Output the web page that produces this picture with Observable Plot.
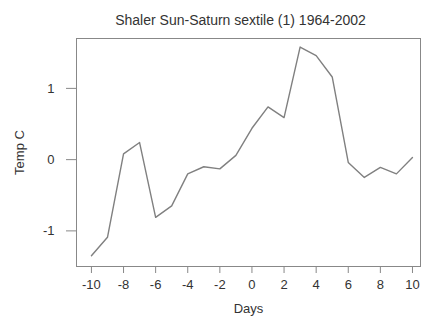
<!DOCTYPE html>
<html>
<head>
<meta charset="utf-8">
<script src="https://cdn.jsdelivr.net/npm/d3@7"></script>
<script src="https://cdn.jsdelivr.net/npm/@observablehq/plot@0.6"></script>
<style>
  html, body { margin: 0; padding: 0; background: #fff; }
  svg { display: block; }
</style>
</head>
<body>
<div id="chart"></div>
<script>
// Mean temperature anomaly around each Sun-Saturn sextile, Shaler station
const days = [-10, -9, -8, -7, -6, -5, -4, -3, -2, -1, 0, 1, 2, 3, 4, 5, 6, 7, 8, 9, 10];
const temps = [-1.35, -1.09, 0.08, 0.24, -0.81, -0.65, -0.20, -0.10, -0.13, 0.06, 0.44, 0.74, 0.59, 1.58, 1.46, 1.16, -0.04, -0.25, -0.11, -0.20, 0.03];
const xTicks = [-10, -8, -6, -4, -2, 0, 2, 4, 6, 8, 10];
const yTicks = [-1, 0, 1];
const title = "Shaler Sun-Saturn sextile (1) 1964-2002";

const data = days.map((d, i) => ({day: d, temp: temps[i]}));

const ink = "#333";
const plain = d => String(d); // ASCII hyphen for negatives

const chart = Plot.plot({
  width: 424,
  height: 320,
  marginLeft: 76,
  marginRight: 4,
  marginTop: 38,
  marginBottom: 54,
  style: {fontFamily: "Liberation Sans, Arial, sans-serif", fontSize: "11px", color: ink, background: "#fff"},
  x: {domain: [-10.93, 10.5]},
  y: {domain: [-1.5, 1.70]},
  marks: [
    Plot.frame({stroke: "#888", strokeWidth: 1}),
    Plot.axisX(xTicks, {
      tickSize: 7, tickPadding: 6, stroke: "#888",
      label: "Days", labelAnchor: "center", labelArrow: "none", labelOffset: 46,
      fontSize: 11, fill: ink, tickFormat: plain
    }),
    Plot.axisY(yTicks, {
      tickSize: 10, tickPadding: 12, stroke: "#888",
      label: "Temp C", labelAnchor: "center", labelArrow: "none", labelOffset: 62,
      fontSize: 11, fill: ink, tickFormat: plain
    }),
    Plot.line(data, {x: "day", y: "temp", stroke: "#808080", strokeWidth: 1.4}),
    Plot.text([title], {frameAnchor: "top", dy: -23, dx: -8, fontSize: 14, fill: "#333"})
  ]
});

document.getElementById("chart").appendChild(chart);

// larger axis titles
chart.querySelectorAll("g[aria-label$='label'] text").forEach(t => t.setAttribute("font-size", 13));
</script>
</body>
</html>
